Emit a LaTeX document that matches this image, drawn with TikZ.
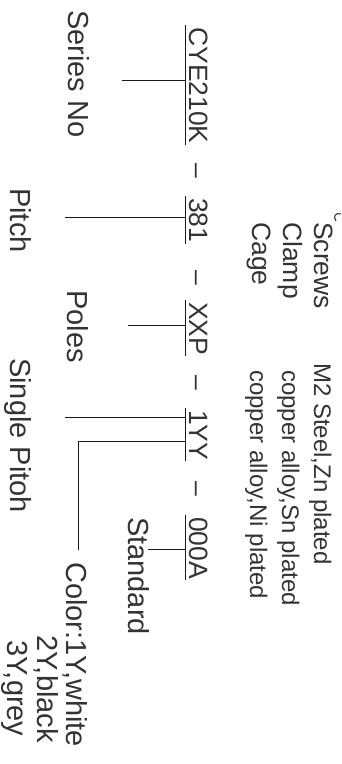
\documentclass[tikz,border=0pt]{standalone}
\usepackage{fontspec}
\setmainfont{Liberation Sans}
\usetikzlibrary{calc}
\begin{document}
\begin{tikzpicture}[x=1pt,y=-1pt,
  lbl/.style={rotate=-90, anchor=base west, inner sep=0pt, text=black!80, font=\fontsize{29}{32}\selectfont},
  code/.style={lbl, font=\fontsize{26.5}{30}\selectfont},
  mat/.style={lbl, font=\fontsize{26.5}{30}\selectfont},
  desc/.style={lbl, font=\fontsize{24}{28}\selectfont},
  ln/.style={line width=1pt, black!90},
]
\useasboundingbox (0,0) rectangle (342,764);

% part number
\node[code] (cye) at (189,27) {CYE210K};
\node[code] (d1) at (189,163) {–};
\node[code] (p381) at (189,198) {381};
\node[code] (d2) at (189,270) {–};
\node[code] (xxp) at (189,302) {XXP};
\node[code] (d3) at (189,375) {–};
\node[code] (yy) at (189,410) {1YY};
\node[code] (d4) at (189,481) {–};
\node[code] (ooa) at (189,517) {000A};

% underlines
\foreach \n in {cye,p381,xxp,yy,ooa}{
  \draw[ln] ($(\n.base west)+(-4,-2)$) -- ($(\n.base east)+(-4,1)$);
}

% labels
\node[lbl] (series) at (68,10) {Series No};
\node[lbl] (pitch) at (10,188) {Pitch};
\node[lbl] (poles) at (67,290) {Poles};
\node[lbl] (single) at (10,358) {Single Pitoh};
\node[lbl] (std) at (128,517) {Standard};
\node[lbl] (color) at (66,562) {Color:1Y,white};
\node[lbl] (black) at (37,635) {2Y,black};
\node[lbl] (grey) at (8,640) {3Y,grey};

% materials
\node[mat] (screws) at (314,222) {Screws};
\node[mat] (clamp) at (283,222) {Clamp};
\node[mat] (cage) at (252,222) {Cage};
\node[desc] (m2) at (314,363) {M2 Steel,Zn plated};
\node[desc] (sn) at (282,370) {copper alloy,Sn plated};
\node[desc] (ni) at (250,370) {copper alloy,Ni plated};

% leaders
\coordinate (sA) at (185,80);  \coordinate (sB) at (122,80);
\coordinate (pA) at (185,217); \coordinate (pB) at (65,217);
\coordinate (oA) at (185,325); \coordinate (oB) at (128,325);
\coordinate (gA) at (185,417); \coordinate (gB) at (65,417);
\coordinate (cA) at (185,441); \coordinate (cB) at (78,441); \coordinate (cC) at (78,550);
\coordinate (tA) at (185,549); \coordinate (tB) at (148,549);
\draw[ln] (sA) -- (sB);
\draw[ln] (pA) -- (pB);
\draw[ln] (oA) -- (oB);
\draw[ln] (gA) -- (gB);
\draw[ln] (cA) -- (cB) -- (cC);
\draw[ln] (tA) -- (tB);

% stray mark
\draw[line width=1pt, black!85] (341,214) .. controls (335,212) and (333,217) .. (336,221);
\end{tikzpicture}
\end{document}
